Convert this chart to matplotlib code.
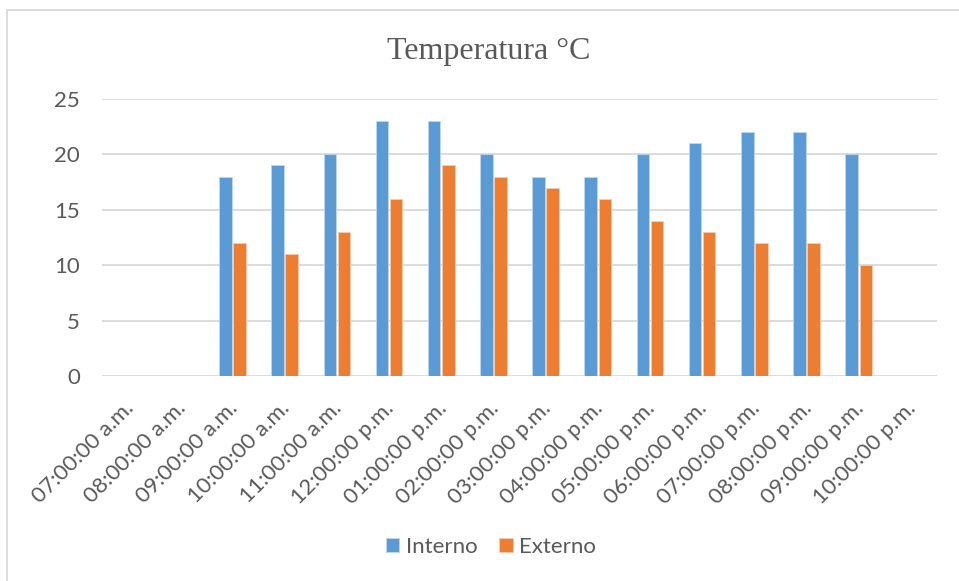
import matplotlib
matplotlib.use("Agg")
import matplotlib.pyplot as plt
import matplotlib.transforms as mtransforms
import numpy as np
from matplotlib.lines import Line2D

categories = ["07:00:00 a.m.", "08:00:00 a.m.", "09:00:00 a.m.", "10:00:00 a.m.",
              "11:00:00 a.m.", "12:00:00 p.m.", "01:00:00 p.m.", "02:00:00 p.m.",
              "03:00:00 p.m.", "04:00:00 p.m.", "05:00:00 p.m.", "06:00:00 p.m.",
              "07:00:00 p.m.", "08:00:00 p.m.", "09:00:00 p.m.", "10:00:00 p.m."]
interno = [np.nan, np.nan, 18, 19, 20, 23, 23, 20, 18, 18, 20, 21, 22, 22, 20, np.nan]
externo = [np.nan, np.nan, 12, 11, 13, 16, 19, 18, 17, 16, 14, 13, 12, 12, 10, np.nan]
yticks = [0, 5, 10, 15, 20, 25]

blue = "#5B9BD5"
orange = "#ED7D31"
grid = "#D9D9D9"
txt = "#595959"

fig = plt.figure(figsize=(9.59, 5.81), dpi=100)
ax = fig.add_axes([102/959, 1-376/581, (937-102)/959, (376-99)/581])

x = np.arange(len(categories)) + 0.5
w = 0.24
off = 0.135
ax.bar(x - off, interno, width=w, color=blue, edgecolor="#BDD7EE", linewidth=0.6, label="Interno", zorder=3)
ax.bar(x + off, externo, width=w, color=orange, edgecolor="#F8CBAD", linewidth=0.6, label="Externo", zorder=3)

ax.set_xlim(0, len(categories))
ax.set_ylim(0, 25)
ax.set_yticks(yticks)
ax.set_yticklabels([str(v) for v in yticks], fontsize=16, color=txt, family="Lato")
ax.set_xticks(x)
ax.set_xticklabels(categories, rotation=45, ha="right", rotation_mode="anchor",
                   fontsize=16, color=txt, family="Lato")
ax.tick_params(axis="both", length=0)
ax.tick_params(axis="y", pad=16)
ax.tick_params(axis="x", pad=16)
shift = mtransforms.ScaledTranslation(-5/100, 0, fig.dpi_scale_trans)
for lab in ax.get_xticklabels():
    lab.set_transform(lab.get_transform() + shift)
for s in ax.spines.values():
    s.set_visible(False)
ax.grid(axis="y", color=grid, linewidth=1.3, zorder=0)
ax.set_axisbelow(True)

fig.text(489/959, 1-52/581, "Temperatura °C", ha="center", va="center",
         fontsize=23, color=txt, family="Liberation Serif")

leg = fig.legend(loc="center", bbox_to_anchor=(491/959, 1-547/581), ncol=2, frameon=False,
                 handlelength=0.6, handleheight=0.6, handletextpad=0.3, columnspacing=1.0,
                 prop={"family": "Lato", "size": 16})
for t in leg.get_texts():
    t.set_color(txt)

fig.add_artist(Line2D([7/959, 7/959], [0, 1-9.5/581], color="#D9D9D9", linewidth=1.3, transform=fig.transFigure))
fig.add_artist(Line2D([7/959, 1], [1-9.5/581, 1-9.5/581], color="#D9D9D9", linewidth=1.3, transform=fig.transFigure))

fig.savefig("out.png", dpi=100)
